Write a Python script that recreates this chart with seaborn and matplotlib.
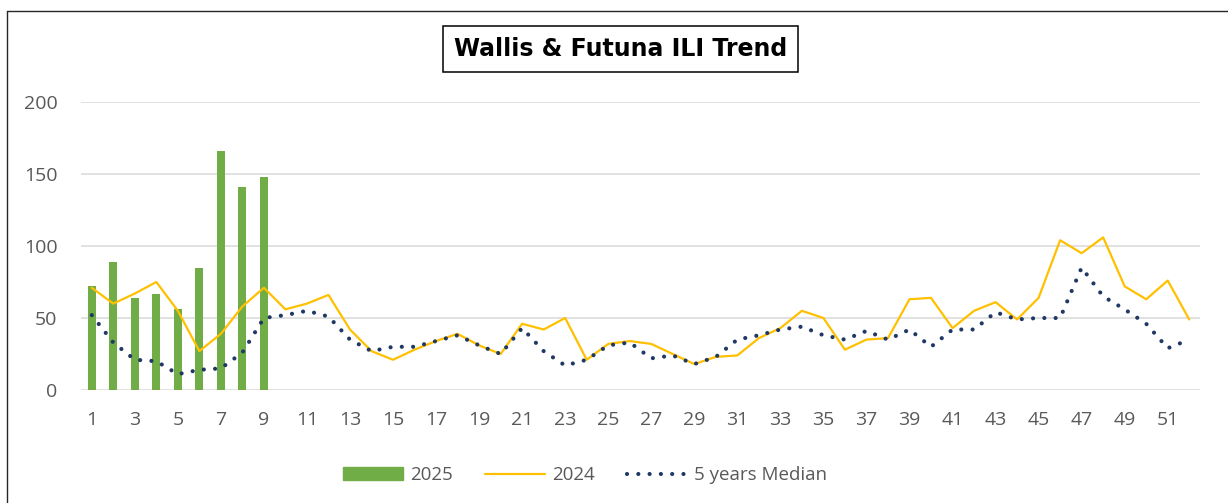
import numpy as np
import pandas as pd
import seaborn as sns
import matplotlib
matplotlib.use("Agg")
import matplotlib.pyplot as plt
from matplotlib.patches import Patch, Rectangle
from matplotlib.lines import Line2D

weeks = list(range(1, 53))
weeks_2025 = list(range(1, 10))
cases_2025 = [72, 89, 64, 67, 56, 85, 166, 141, 148]
cases_2024 = [71, 60, 67, 75, 55, 27, 39, 58, 71, 56,
              60, 66, 42, 27, 21, 28, 34, 39, 31, 25,
              46, 42, 50, 21, 32, 34, 32, 25, 18, 23,
              24, 36, 43, 55, 50, 28, 35, 36, 63, 64,
              43, 55, 61, 49, 64, 104, 95, 106, 72, 63,
              76, 49]
median_5y = [52, 33, 21, 20, 11, 14, 15, 26, 50, 52,
             55, 51, 35, 27, 30, 30, 34, 38, 31, 25,
             43, 27, 17, 21, 31, 33, 22, 24, 18, 23,
             35, 38, 42, 44, 38, 35, 41, 35, 42, 30,
             42, 42, 54, 49, 50, 50, 85, 65, 56, 46,
             29, 35]
y_ticks = [0, 50, 100, 150, 200]
x_ticks = list(range(1, 52, 2))
title = "Wallis & Futuna ILI Trend"
labels = ["2025", "2024", "5 years Median"]

GREEN = "#70AD47"
YELLOW = "#FFC000"
NAVY = "#203864"
GRAY_TXT = "#595959"

sns.set_theme(style="white")
plt.rcParams["font.family"] = ["Open Sans", "DejaVu Sans"]

W, H = 1228, 503
fig = plt.figure(figsize=(W / 100, H / 100), dpi=100)
ax = fig.add_axes([81 / W, 1 - 390 / H, (1200 - 81) / W, (390 - 102) / H])

df25 = pd.DataFrame({"week": weeks_2025, "cases": cases_2025})
df24 = pd.DataFrame({"week": weeks, "cases": cases_2024})
dfm = pd.DataFrame({"week": weeks, "cases": median_5y})

sns.barplot(data=df25, x="week", y="cases", native_scale=True, width=0.38,
            color=GREEN, saturation=1, linewidth=0, ax=ax, zorder=2)
sns.lineplot(data=df24, x="week", y="cases", color=YELLOW, linewidth=1.6,
             ax=ax, zorder=3)
sns.lineplot(data=dfm, x="week", y="cases", color=NAVY, linewidth=3.0,
             linestyle=(0, (0.01, 2.7)), dash_capstyle="round", ax=ax, zorder=4)

ax.set_xlim(0.5, 52.5)
ax.set_ylim(0, 200)
ax.set_yticks(y_ticks)
ax.set_xticks(x_ticks)
ax.set_xticklabels([str(t) for t in x_ticks])
ax.set_xlabel("")
ax.set_ylabel("")
ax.grid(axis="y", color="#D9D9D9", linewidth=1.1, zorder=0)
ax.set_axisbelow(True)
for s in ax.spines.values():
    s.set_visible(False)
ax.tick_params(axis="both", length=0, labelsize=14, labelcolor=GRAY_TXT)
ax.tick_params(axis="y", pad=17)
ax.tick_params(axis="x", pad=15)

# Title with box
fig.text(620.5 / W, 1 - 49 / H, title, ha="center", va="center",
         fontsize=17, fontweight="bold", color="black", family=["DejaVu Sans"])
fig.patches.append(Rectangle((442.7 / W, 1 - 72.3 / H), (798.3 - 442.7) / W,
                             (72.3 - 25.7) / H, transform=fig.transFigure,
                             fill=False, edgecolor="black", linewidth=1.1))

# Outer chart border (left and top visible)
fig.add_artist(Line2D([7 / W, 7 / W], [0, 1 - 11 / H], transform=fig.transFigure,
                      color="#262626", linewidth=1.0))
fig.add_artist(Line2D([7 / W, 1], [1 - 11 / H, 1 - 11 / H], transform=fig.transFigure,
                      color="#262626", linewidth=1.0))

handles = [
    Patch(facecolor=GREEN, edgecolor=GREEN),
    Line2D([0], [0], color=YELLOW, linewidth=1.6),
    Line2D([0], [0], color=NAVY, linewidth=3.0, linestyle=(0, (0.01, 2.7)),
           dash_capstyle="round"),
]
fig.legend(handles, labels, loc="center", bbox_to_anchor=(585 / W, 1 - 475 / H),
           ncol=3, frameon=False, fontsize=13.5, handlelength=3.2,
           handleheight=0.65, handletextpad=0.4, columnspacing=1.7,
           labelcolor=GRAY_TXT)

fig.savefig("out.png", dpi=100, facecolor="white")
